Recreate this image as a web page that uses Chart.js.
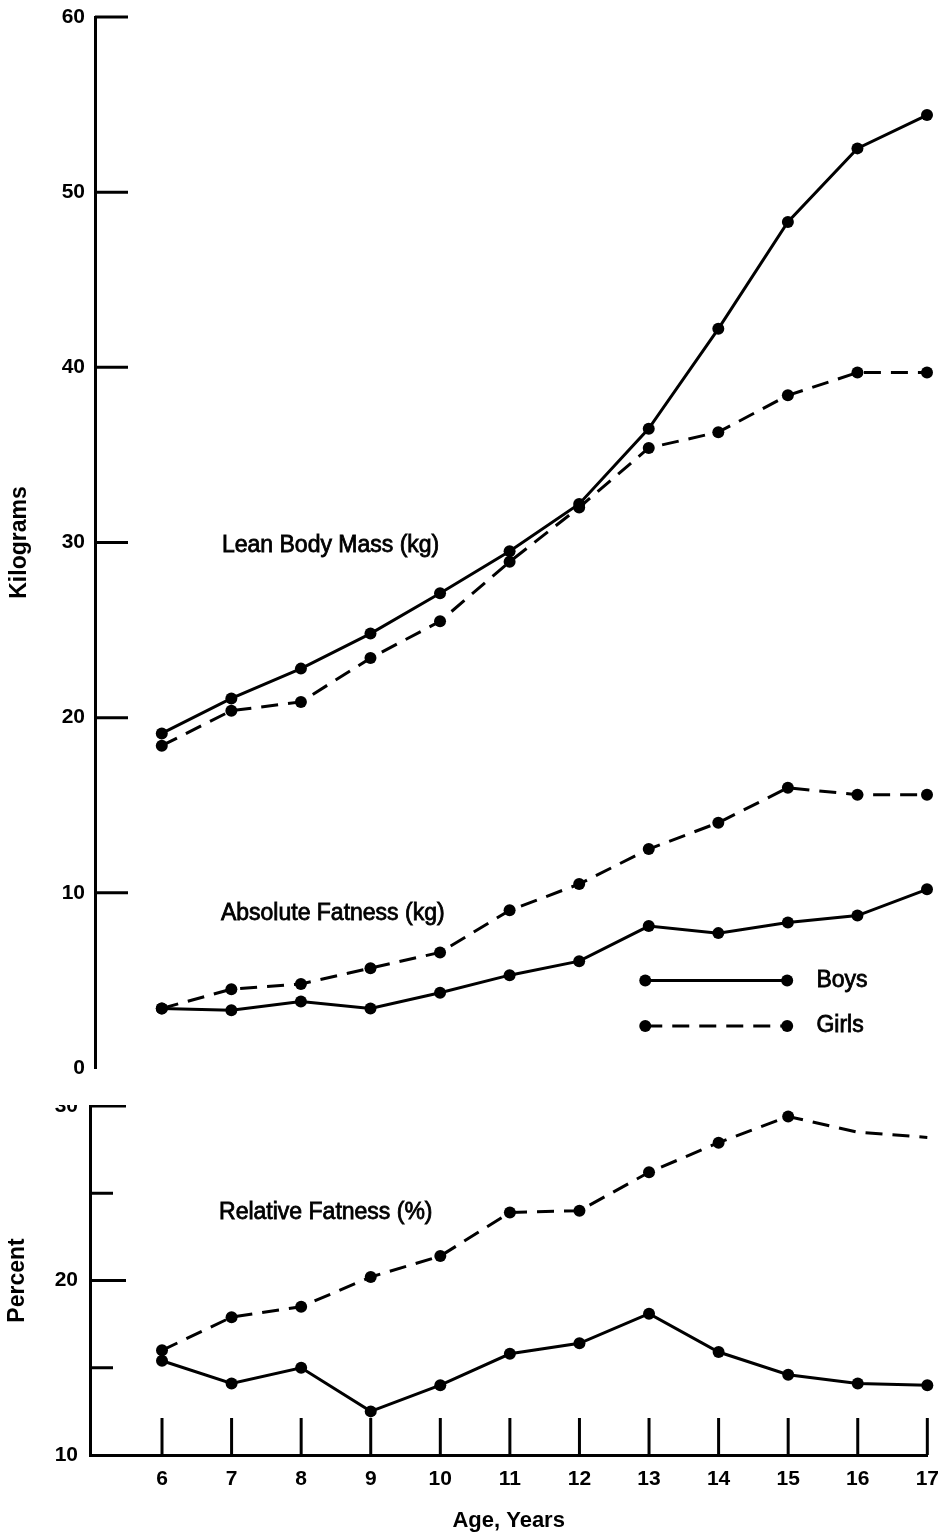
<!DOCTYPE html>
<html>
<head>
<meta charset="utf-8">
<script src="https://cdn.jsdelivr.net/npm/chart.js@4.4.1/dist/chart.umd.min.js"></script>
<style>
  html, body { margin: 0; padding: 0; background: #fff; }
  #wrap { position: relative; width: 940px; height: 1535px; overflow: hidden; }
  #kgChart { position: absolute; left: 0; top: -6px; }
  #pctBox { position: absolute; left: 0; top: 1105px; width: 940px; height: 430px; overflow: hidden; }
  #pctChart { position: absolute; left: 0; top: -24px; }
</style>
</head>
<body>
<div id="wrap">
  <canvas id="kgChart" width="940" height="1097"></canvas>
  <div id="pctBox"><canvas id="pctChart" width="951" height="454"></canvas></div>
</div>
<script>
// Age in years
const ages = [6, 7, 8, 9, 10, 11, 12, 13, 14, 15, 16, 17];

// Lean body mass, kg
const leanBoys  = [19.1, 21.1, 22.8, 24.8, 27.1, 29.5, 32.2, 36.5, 42.2, 48.3, 52.5, 54.4];
const leanGirls = [18.4, 20.4, 20.9, 23.4, 25.5, 28.9, 32.0, 35.4, 36.3, 38.4, 39.7, 39.7];

// Absolute fatness, kg
const fatKgBoys  = [3.4, 3.3, 3.8, 3.4, 4.3, 5.3, 6.1, 8.1, 7.7, 8.3, 8.7, 10.2];
const fatKgGirls = [3.4, 4.5, 4.8, 5.7, 6.6, 9.0, 10.5, 12.5, 14.0, 16.0, 15.6, 15.6];

// Relative fatness, %
const fatPctBoys  = [15.4, 14.1, 15.0, 12.5, 14.0, 15.8, 16.4, 18.1, 15.9, 14.6, 14.1, 14.0];
const fatPctGirls = [16.0, 17.9, 18.5, 20.2, 21.4, 23.9, 24.0, 26.2, 27.9, 29.4, 28.5, 28.2];

// Tick values
const kgTicks  = [0, 10, 20, 30, 40, 50, 60];
const pctTicks = [10, 15, 20, 25, 30];
const pctLabelled = [10, 20, 30];

const seriesNames = ['Boys', 'Girls'];

const FONT = '"Liberation Sans", Arial, Helvetica, sans-serif';
Chart.defaults.font.family = FONT;
Chart.defaults.color = '#000';

const LINE_W = 3;
const DOT_R = 6;
const DASH = [17, 10];

const tickFont = { size: 21, weight: 'bold', lineHeight: '26px' };
const titleFont = { size: 23, weight: 'bold' };

const pts = arr => arr.map((v, i) => ({ x: ages[i], y: v }));

const solid = { borderColor: '#000', borderWidth: LINE_W, pointRadius: DOT_R, pointHoverRadius: DOT_R,
  pointBackgroundColor: '#000', pointBorderWidth: 0, tension: 0, clip: false, fill: false };
const dashed = Object.assign({}, solid, { borderDash: DASH });

// Short tick marks pointing into the plot area
const innerTicks = {
  id: 'innerTicks',
  afterDraw(chart, args, opts) {
    const ctx = chart.ctx, area = chart.chartArea;
    ctx.save();
    ctx.strokeStyle = '#000';
    ctx.lineWidth = LINE_W;
    ctx.lineCap = 'butt';
    if (opts.y) {
      const ys = chart.scales.y;
      ys.ticks.forEach(t => {
        const len = opts.y(t.value);
        if (!len) return;
        const py = ys.getPixelForValue(t.value);
        ctx.beginPath(); ctx.moveTo(area.left, py); ctx.lineTo(area.left + len, py); ctx.stroke();
      });
    }
    if (opts.x) {
      const xs = chart.scales.x;
      xs.ticks.forEach(t => {
        const len = opts.x(t.value);
        if (!len) return;
        const px = xs.getPixelForValue(t.value);
        ctx.beginPath(); ctx.moveTo(px, area.bottom); ctx.lineTo(px, area.bottom - len); ctx.stroke();
      });
    }
    ctx.restore();
  }
};

// Heavier body text, as printed
function printText(ctx, text, x, y) {
  ctx.font = '23px ' + FONT;
  ctx.textAlign = 'left';
  ctx.textBaseline = 'middle';
  ctx.fillStyle = '#000';
  ctx.strokeStyle = '#000';
  ctx.lineWidth = 0.8;
  ctx.setLineDash([]);
  ctx.fillText(text, x, y);
  ctx.strokeText(text, x, y);
}

// Curve names written inside the plot
const curveNotes = {
  id: 'curveNotes',
  afterDraw(chart, args, opts) {
    if (!opts.items) return;
    const ctx = chart.ctx;
    ctx.save();
    opts.items.forEach(it => {
      printText(ctx, it.text, chart.scales.x.getPixelForValue(it.x), chart.scales.y.getPixelForValue(it.y));
    });
    ctx.restore();
  }
};

// Key with a sample segment for each sex
const sexKey = {
  id: 'sexKey',
  afterDraw(chart, args, opts) {
    if (!opts.rows) return;
    const ctx = chart.ctx, xs = chart.scales.x, ys = chart.scales.y;
    ctx.save();
    opts.rows.forEach(r => {
      const x0 = xs.getPixelForValue(opts.x0), x1 = xs.getPixelForValue(opts.x1);
      const y = ys.getPixelForValue(r.y);
      ctx.strokeStyle = '#000';
      ctx.lineWidth = LINE_W;
      ctx.setLineDash(r.dash || []);
      ctx.beginPath(); ctx.moveTo(x0, y); ctx.lineTo(x1, y); ctx.stroke();
      ctx.setLineDash([]);
      ctx.fillStyle = '#000';
      [x0, x1].forEach(px => { ctx.beginPath(); ctx.arc(px, y, DOT_R, 0, Math.PI * 2); ctx.fill(); });
      printText(ctx, r.label, xs.getPixelForValue(opts.xText), y);
    });
    ctx.restore();
  }
};

// Upper panel: kilograms
new Chart(document.getElementById('kgChart'), {
  type: 'line',
  data: {
    datasets: [
      Object.assign({ label: 'Lean Body Mass, ' + seriesNames[0], data: pts(leanBoys) }, solid),
      Object.assign({ label: 'Lean Body Mass, ' + seriesNames[1], data: pts(leanGirls) }, dashed),
      Object.assign({ label: 'Absolute Fatness, ' + seriesNames[0], data: pts(fatKgBoys) }, solid),
      Object.assign({ label: 'Absolute Fatness, ' + seriesNames[1], data: pts(fatKgGirls) }, dashed)
    ]
  },
  options: {
    responsive: false,
    animation: false,
    events: [],
    layout: { padding: { top: 0, right: 13, bottom: 0, left: 0 } },
    scales: {
      x: { type: 'linear', min: 5.04, max: 17, display: false },
      y: {
        type: 'linear', min: 0, max: 60,
        afterBuildTicks: s => { s.ticks = kgTicks.map(v => ({ value: v })); },
        afterFit: s => { s.width = 95; },
        ticks: { font: tickFont, color: '#000', padding: 10 },
        grid: { display: false, drawTicks: false },
        border: { display: true, color: '#000', width: LINE_W },
        title: { display: true, text: 'Kilograms', font: titleFont, color: '#000', padding: { top: 6, bottom: 0 } }
      }
    },
    plugins: {
      legend: { display: false },
      tooltip: { enabled: false },
      innerTicks: { y: v => (v === 0 ? 0 : 33) },
      curveNotes: { items: [
        { text: 'Lean Body Mass (kg)', x: 6.865, y: 29.8 },
        { text: 'Absolute Fatness (kg)', x: 6.85, y: 8.8 }
      ] },
      sexKey: { x0: 12.95, x1: 14.99, xText: 15.41, rows: [
        { label: seriesNames[0], y: 5.0 },
        { label: seriesNames[1], y: 2.4, dash: DASH }
      ] }
    }
  },
  plugins: [innerTicks, curveNotes, sexKey]
});

// Lower panel: percent
new Chart(document.getElementById('pctChart'), {
  type: 'line',
  data: {
    datasets: [
      Object.assign({ label: 'Relative Fatness, ' + seriesNames[0], data: pts(fatPctBoys) }, solid),
      Object.assign({ label: 'Relative Fatness, ' + seriesNames[1], data: pts(fatPctGirls) }, dashed,
        { pointRadius: ages.map(a => (a >= 16 ? 0 : DOT_R)) })
    ]
  },
  options: {
    responsive: false,
    animation: false,
    events: [],
    layout: { padding: 0 },
    scales: {
      x: {
        type: 'linear', min: 4.965, max: 17,
        afterBuildTicks: s => { s.ticks = ages.map(v => ({ value: v })); },
        afterFit: s => { s.height = 80; },
        ticks: { font: { size: 21, weight: 'bold' }, color: '#000', padding: 12, maxRotation: 0, autoSkip: false },
        grid: { display: false, drawTicks: false },
        border: { display: true, color: '#000', width: LINE_W },
        title: { display: true, text: 'Age, Years', font: { size: 22, weight: 'bold' }, color: '#000', padding: { top: 0, bottom: 1 } }
      },
      y: {
        type: 'linear', min: 10, max: 30,
        afterBuildTicks: s => { s.ticks = pctTicks.map(v => ({ value: v })); },
        afterFit: s => { s.width = 90; },
        ticks: { font: tickFont, color: '#000', padding: 12,
          callback: v => (pctLabelled.includes(v) ? String(v) : '') },
        grid: { display: false, drawTicks: false },
        border: { display: true, color: '#000', width: LINE_W },
        title: { display: true, text: 'Percent', font: titleFont, color: '#000', padding: { top: 4, bottom: 0 } }
      }
    },
    plugins: {
      legend: { display: false },
      tooltip: { enabled: false },
      innerTicks: {
        y: v => (v === 10 ? 0 : (pctLabelled.includes(v) ? 36 : 23)),
        x: () => 37
      },
      curveNotes: { items: [
        { text: 'Relative Fatness (%)', x: 6.82, y: 23.9 }
      ] }
    }
  },
  plugins: [innerTicks, curveNotes]
});
</script>
</body>
</html>
